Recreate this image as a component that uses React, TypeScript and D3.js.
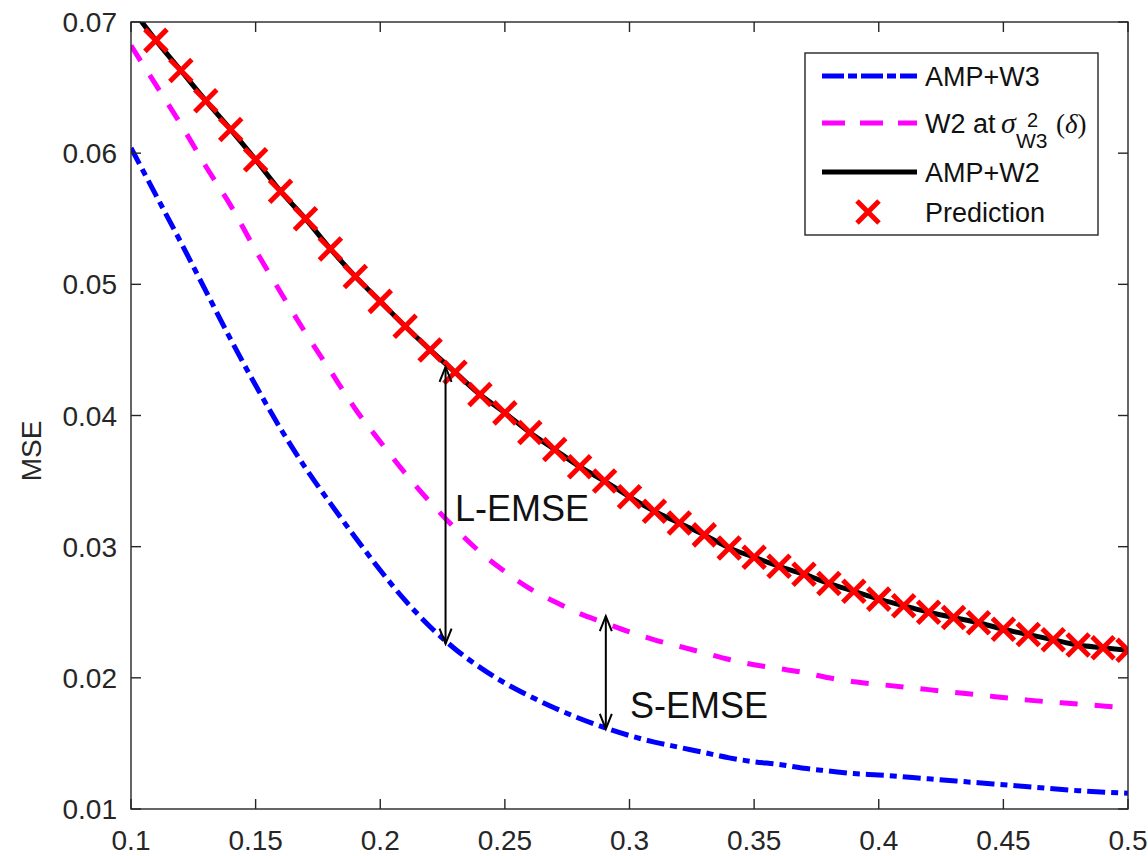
import React from "react";
import * as d3 from "d3";

// ---- data ----
const ampW2X = [0.1, 0.11, 0.12, 0.13, 0.14, 0.15, 0.16, 0.17, 0.18, 0.19, 0.2, 0.21, 0.22, 0.23, 0.24, 0.25, 0.26, 0.27, 0.28, 0.29, 0.3, 0.31, 0.32, 0.33, 0.34, 0.35, 0.36, 0.37, 0.38, 0.39, 0.4, 0.41, 0.42, 0.43, 0.44, 0.45, 0.46, 0.47, 0.48, 0.49, 0.5];
const ampW2Y = [0.0711, 0.0686, 0.0663, 0.064, 0.0618, 0.0595, 0.0571, 0.055, 0.0527, 0.0506, 0.0487, 0.0468, 0.045, 0.0433, 0.0416, 0.0402, 0.0387, 0.0374, 0.0361, 0.035, 0.0338, 0.0327, 0.0318, 0.0309, 0.0299, 0.0292, 0.0285, 0.0279, 0.0272, 0.0266, 0.026, 0.0255, 0.025, 0.0246, 0.0242, 0.0237, 0.0233, 0.0229, 0.0225, 0.0223, 0.0221];

const predictionX = [0.11, 0.12, 0.13, 0.14, 0.15, 0.16, 0.17, 0.18, 0.19, 0.2, 0.21, 0.22, 0.23, 0.24, 0.25, 0.26, 0.27, 0.28, 0.29, 0.3, 0.31, 0.32, 0.33, 0.34, 0.35, 0.36, 0.37, 0.38, 0.39, 0.4, 0.41, 0.42, 0.43, 0.44, 0.45, 0.46, 0.47, 0.48, 0.49, 0.5];
const predictionY = [0.0686, 0.0663, 0.064, 0.0618, 0.0595, 0.0571, 0.055, 0.0527, 0.0506, 0.0487, 0.0468, 0.045, 0.0433, 0.0416, 0.0402, 0.0387, 0.0374, 0.0361, 0.035, 0.0338, 0.0327, 0.0318, 0.0309, 0.0299, 0.0292, 0.0285, 0.0279, 0.0272, 0.0266, 0.026, 0.0255, 0.025, 0.0246, 0.0242, 0.0237, 0.0233, 0.0229, 0.0225, 0.0223, 0.0221];

const ampW3X = [0.1, 0.11, 0.12, 0.13, 0.14, 0.15, 0.16, 0.17, 0.18, 0.19, 0.2, 0.21, 0.22, 0.23, 0.24, 0.25, 0.26, 0.27, 0.28, 0.29, 0.3, 0.31, 0.32, 0.33, 0.34, 0.35, 0.36, 0.37, 0.38, 0.39, 0.4, 0.42, 0.44, 0.46, 0.48, 0.5];
const ampW3Y = [0.0604, 0.0568, 0.0532, 0.0495, 0.0458, 0.0423, 0.039, 0.036, 0.0333, 0.0307, 0.0282, 0.0259, 0.0239, 0.0222, 0.0208, 0.0196, 0.0186, 0.0177, 0.0169, 0.0162, 0.0156, 0.0151, 0.0147, 0.0143, 0.0139, 0.0136, 0.0134, 0.0131, 0.0129, 0.0127, 0.0126, 0.0123, 0.012, 0.0117, 0.0114, 0.0112];

const w2SigmaX = [0.1, 0.11, 0.12, 0.13, 0.14, 0.15, 0.16, 0.17, 0.18, 0.19, 0.2, 0.21, 0.22, 0.23, 0.24, 0.25, 0.26, 0.27, 0.28, 0.29, 0.3, 0.31, 0.32, 0.33, 0.34, 0.35, 0.36, 0.37, 0.38, 0.39, 0.4, 0.42, 0.44, 0.46, 0.48, 0.5];
const w2SigmaY = [0.0682, 0.0652, 0.0622, 0.059, 0.056, 0.0526, 0.0494, 0.0463, 0.0434, 0.0405, 0.038, 0.0356, 0.0334, 0.0314, 0.0296, 0.0281, 0.0268, 0.0258, 0.0249, 0.0242, 0.0235, 0.0229, 0.0224, 0.0219, 0.0214, 0.021, 0.0207, 0.0204, 0.02, 0.0197, 0.0195, 0.0191, 0.0187, 0.0183, 0.018, 0.0177];

const xTicks = [0.1, 0.15, 0.2, 0.25, 0.3, 0.35, 0.4, 0.45, 0.5];
const yTicks = [0.01, 0.02, 0.03, 0.04, 0.05, 0.06, 0.07];

// gap annotations: x position, lower and upper ends
const lEmse = { x: 0.2262, lo: 0.0226, hi: 0.0437, label: "L-EMSE" };
const sEmse = { x: 0.2905, lo: 0.0161, hi: 0.0247, label: "S-EMSE" };

// ---- layout ----
const W = 1148;
const H = 856;
const plot = { left: 131, right: 1128, top: 22, bottom: 809 };
const FONT = "'Liberation Sans', Arial, Helvetica, sans-serif";
const AXIS = "#262626";

const x = d3.scaleLinear().domain([0.1, 0.5]).range([plot.left, plot.right]);
const y = d3.scaleLinear().domain([0.01, 0.07]).range([plot.bottom, plot.top]);

const lineGen = d3
  .line<[number, number]>()
  .x((d) => x(d[0]))
  .y((d) => y(d[1]))
  .curve(d3.curveMonotoneX);

const zip = (xs: number[], ys: number[]) => xs.map((v, i) => [v, ys[i]] as [number, number]);

const BLUE_DASH = "18,6,7,6";
const MAG_DASH = "18,17";

function Cross({ cx, cy, r = 11 }: { cx: number; cy: number; r?: number }) {
  return (
    <path
      d={`M${cx - r},${cy - r}L${cx + r},${cy + r}M${cx - r},${cy + r}L${cx + r},${cy - r}`}
      stroke="#ff0000"
      strokeWidth={5}
      fill="none"
    />
  );
}

function DoubleArrow({ xv, lo, hi }: { xv: number; lo: number; hi: number }) {
  const px = x(xv);
  const y1 = y(hi);
  const y2 = y(lo);
  const hw = 6;
  const hl = 15;
  return (
    <g stroke="#000" fill="none" strokeWidth={2}>
      <line x1={px} y1={y1} x2={px} y2={y2} />
      <path d={`M${px - hw},${y1 + hl}L${px},${y1}L${px + hw},${y1 + hl}`} />
      <path d={`M${px - hw},${y2 - hl}L${px},${y2}L${px + hw},${y2 - hl}`} />
    </g>
  );
}

export default function App() {
  const fmt = (v: number) => String(+v.toFixed(2));
  const tickLen = 10;
  return (
    <svg
      width={W}
      height={H}
      viewBox={`0 0 ${W} ${H}`}
      style={{ position: "absolute", left: 0, top: 0, background: "#fff", display: "block" }}
    >
      <rect x={0} y={0} width={W} height={H} fill="#fff" />
      <defs>
        <clipPath id="plotClip">
          <rect x={plot.left} y={plot.top} width={plot.right - plot.left} height={plot.bottom - plot.top} />
        </clipPath>
      </defs>

      {/* series */}
      <g clipPath="url(#plotClip)" fill="none">
        <path d={lineGen(zip(ampW3X, ampW3Y)) || ""} stroke="#0000ff" strokeWidth={5} strokeDasharray={BLUE_DASH} />
        <path d={lineGen(zip(w2SigmaX, w2SigmaY)) || ""} stroke="#ff00ff" strokeWidth={5} strokeDasharray={MAG_DASH} />
        <path d={lineGen(zip(ampW2X, ampW2Y)) || ""} stroke="#000" strokeWidth={5} />
      </g>
      <g clipPath="url(#plotClip)">
        {predictionX.map((v, i) => (
          <Cross key={i} cx={x(v)} cy={y(predictionY[i])} />
        ))}
      </g>

      {/* annotations */}
      <DoubleArrow xv={lEmse.x} lo={lEmse.lo} hi={lEmse.hi} />
      <DoubleArrow xv={sEmse.x} lo={sEmse.lo} hi={sEmse.hi} />
      <text x={455} y={521} fontFamily={FONT} fontSize={36} fill="#111">
        {lEmse.label}
      </text>
      <text x={630} y={718} fontFamily={FONT} fontSize={36} fill="#111">
        {sEmse.label}
      </text>

      {/* axes box */}
      <rect
        x={plot.left}
        y={plot.top}
        width={plot.right - plot.left}
        height={plot.bottom - plot.top}
        fill="none"
        stroke={AXIS}
        strokeWidth={1.4}
      />
      <g stroke={AXIS} strokeWidth={1.4}>
        {xTicks.map((t) => (
          <g key={"xt" + t}>
            <line x1={x(t)} x2={x(t)} y1={plot.bottom} y2={plot.bottom - tickLen} />
            <line x1={x(t)} x2={x(t)} y1={plot.top} y2={plot.top + tickLen} />
          </g>
        ))}
        {yTicks.map((t) => (
          <g key={"yt" + t}>
            <line x1={plot.left} x2={plot.left + tickLen} y1={y(t)} y2={y(t)} />
            <line x1={plot.right} x2={plot.right - tickLen} y1={y(t)} y2={y(t)} />
          </g>
        ))}
      </g>
      <g fontFamily={FONT} fontSize={28} fill={AXIS}>
        {xTicks.map((t) => (
          <text key={"xl" + t} x={x(t)} y={850} textAnchor="middle">
            {fmt(t)}
          </text>
        ))}
        {yTicks.map((t) => (
          <text key={"yl" + t} x={117} y={y(t) + 10} textAnchor="end">
            {t.toFixed(2)}
          </text>
        ))}
        <text transform={`translate(41,451) rotate(-90)`} textAnchor="middle">
          MSE
        </text>
      </g>

      {/* legend */}
      <g>
        <rect x={805} y={53} width={293} height={182} fill="#fff" stroke={AXIS} strokeWidth={1.4} />
        <line x1={822} x2={917} y1={76} y2={76} stroke="#0000ff" strokeWidth={5} strokeDasharray="22,4,9,4" />
        <line x1={822} x2={917} y1={123} y2={123} stroke="#ff00ff" strokeWidth={5} strokeDasharray="23,15" />
        <line x1={822} x2={917} y1={172} y2={172} stroke="#000" strokeWidth={5} />
        <Cross cx={868} cy={212} />
        <g fontFamily={FONT} fontSize={27} fill="#111">
          <text x={925} y={86}>AMP+W3</text>
          <text x={925} y={133}>W2 at</text>
          <text x={1001} y={133} fontFamily="'Liberation Serif', 'Times New Roman', serif" fontStyle="italic" fontSize={30}>
            σ
          </text>
          <text x={1027} y={127} fontSize={20}>2</text>
          <text x={1016} y={148} fontSize={21}>W3</text>
          <text x={1056} y={133} fontFamily="'Liberation Serif', 'Times New Roman', serif" fontSize={27}>
            (<tspan fontStyle="italic">δ</tspan>)
          </text>
          <text x={925} y={182}>AMP+W2</text>
          <text x={925} y={222}>Prediction</text>
        </g>
      </g>
    </svg>
  );
}
